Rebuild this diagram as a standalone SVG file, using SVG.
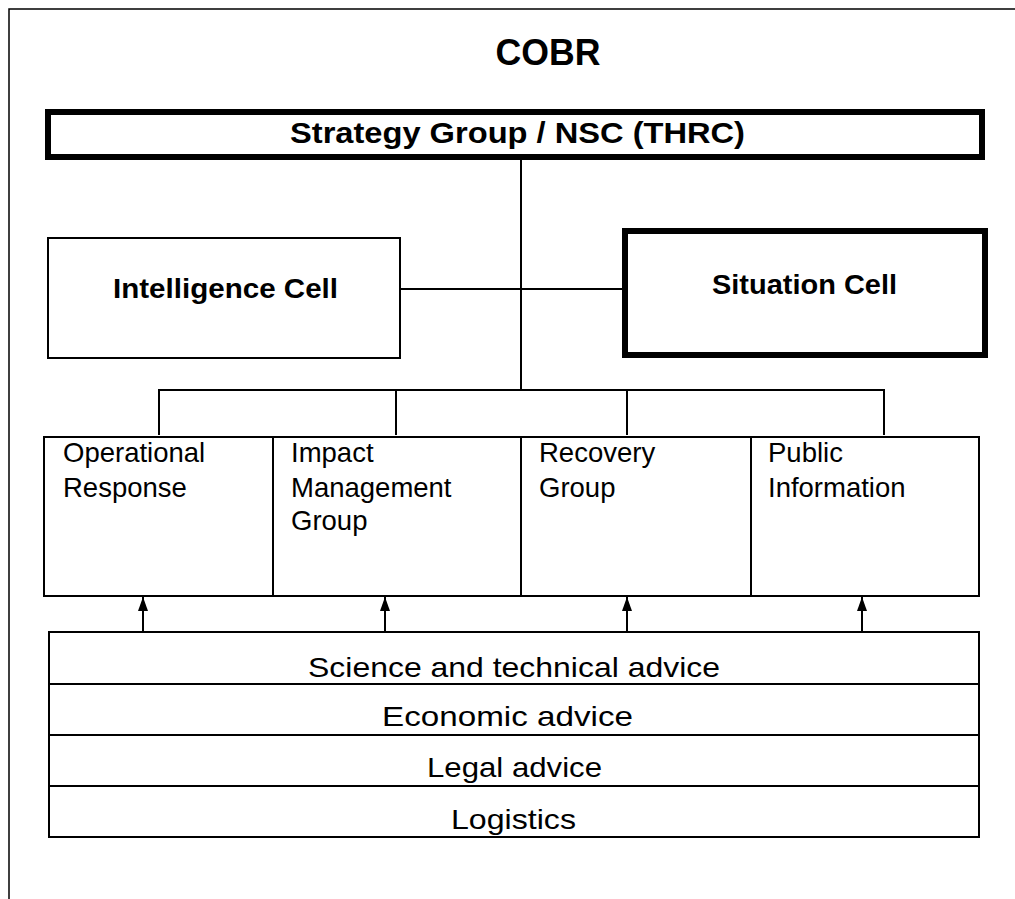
<svg xmlns="http://www.w3.org/2000/svg" width="1015" height="899" viewBox="0 0 1015 899">
<style>
.t{font-family:"Liberation Sans",Arial,sans-serif;fill:#000}
.b{font-weight:bold}
.box{fill:#fff;stroke:#000;stroke-width:2}
.thick{fill:#fff;stroke:#000;stroke-width:6}
.ln{stroke:#000;stroke-width:2;fill:none}
</style>
<defs>
<marker id="arr" markerUnits="userSpaceOnUse" markerWidth="14" markerHeight="10" refX="14" refY="5" orient="auto" viewBox="0 0 14 10">
<path d="M0,0 L14,5 L0,10 Z" fill="#000"/>
</marker>
</defs>
<rect width="1015" height="899" fill="#fff"/>
<path d="M9,899 V9 H1015" fill="none" stroke="#000" stroke-width="1.5"/>
<text class="t b" x="548" y="65" font-size="36" text-anchor="middle" textLength="105" lengthAdjust="spacingAndGlyphs">COBR</text>
<g id="connectors">
<line class="ln" x1="521" y1="158" x2="521" y2="390"/>
<line class="ln" x1="400" y1="289" x2="622" y2="289"/>
<line class="ln" x1="158" y1="390" x2="885" y2="390"/>
<line class="ln" x1="159" y1="390" x2="159" y2="435"/>
<line class="ln" x1="396" y1="390" x2="396" y2="435"/>
<line class="ln" x1="627" y1="390" x2="627" y2="435"/>
<line class="ln" x1="884" y1="390" x2="884" y2="435"/>
<line class="ln" x1="143" y1="632" x2="143" y2="597" marker-end="url(#arr)"/>
<line class="ln" x1="385" y1="632" x2="385" y2="597" marker-end="url(#arr)"/>
<line class="ln" x1="627" y1="632" x2="627" y2="597" marker-end="url(#arr)"/>
<line class="ln" x1="862" y1="632" x2="862" y2="597" marker-end="url(#arr)"/>
</g>
<g id="strategy">
<rect class="thick" x="48" y="112" width="934" height="45"/>
<text class="t b" x="517.5" y="143" font-size="30" text-anchor="middle" textLength="455" lengthAdjust="spacingAndGlyphs">Strategy Group / NSC (THRC)</text>
</g>
<g id="intelligence">
<rect class="box" x="48" y="238" width="352" height="120"/>
<text class="t b" x="225.5" y="298" font-size="28" text-anchor="middle" textLength="225" lengthAdjust="spacingAndGlyphs">Intelligence Cell</text>
</g>
<g id="situation">
<rect class="thick" x="625" y="231" width="360" height="124"/>
<text class="t b" x="804.5" y="294" font-size="28" text-anchor="middle" textLength="185" lengthAdjust="spacingAndGlyphs">Situation Cell</text>
</g>
<g id="operational">
<rect class="box" x="44" y="437" width="229" height="159"/>
<text class="t" x="63" y="462" font-size="27.5">Operational</text>
<text class="t" x="63" y="497" font-size="27.5">Response</text>
</g>
<g id="impact">
<rect class="box" x="273" y="437" width="248" height="159"/>
<text class="t" x="291" y="462" font-size="27.5">Impact</text>
<text class="t" x="291" y="497" font-size="27.5">Management</text>
<text class="t" x="291" y="530" font-size="27.5">Group</text>
</g>
<g id="recovery">
<rect class="box" x="521" y="437" width="230" height="159"/>
<text class="t" x="539" y="462" font-size="27.5">Recovery</text>
<text class="t" x="539" y="497" font-size="27.5">Group</text>
</g>
<g id="public">
<rect class="box" x="751" y="437" width="228" height="159"/>
<text class="t" x="768" y="462" font-size="27.5">Public</text>
<text class="t" x="768" y="497" font-size="27.5">Information</text>
</g>
<g id="science">
<rect class="box" x="49" y="632" width="930" height="52"/>
<text class="t" x="514" y="677" font-size="28" text-anchor="middle" textLength="412" lengthAdjust="spacingAndGlyphs">Science and technical advice</text>
</g>
<g id="economic">
<rect class="box" x="49" y="684" width="930" height="51"/>
<text class="t" x="507.5" y="726" font-size="28" text-anchor="middle" textLength="251" lengthAdjust="spacingAndGlyphs">Economic advice</text>
</g>
<g id="legal">
<rect class="box" x="49" y="735" width="930" height="51"/>
<text class="t" x="514.5" y="777" font-size="28" text-anchor="middle" textLength="175" lengthAdjust="spacingAndGlyphs">Legal advice</text>
</g>
<g id="logistics">
<rect class="box" x="49" y="786" width="930" height="51"/>
<text class="t" x="513.5" y="829" font-size="28" text-anchor="middle" textLength="125" lengthAdjust="spacingAndGlyphs">Logistics</text>
</g>
</svg>
